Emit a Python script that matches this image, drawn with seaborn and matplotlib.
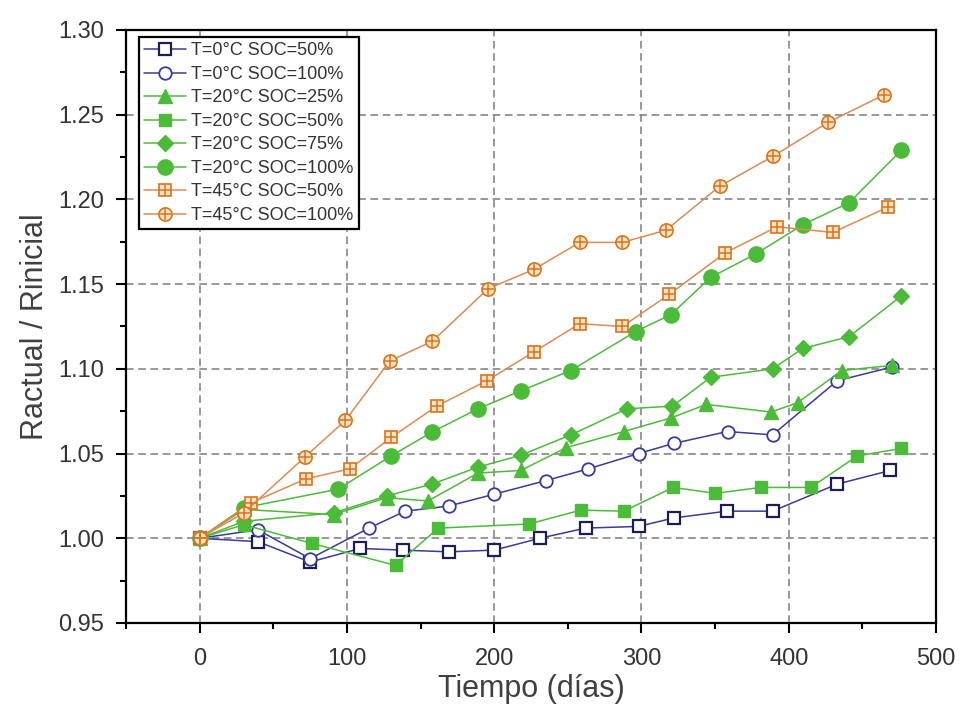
import matplotlib
matplotlib.use("Agg")
import matplotlib.pyplot as plt
import seaborn as sns
import pandas as pd
from matplotlib.ticker import MultipleLocator, FormatStrFormatter

# ---- data ----
labels = ["T=0°C SOC=50%", "T=0°C SOC=100%", "T=20°C SOC=25%", "T=20°C SOC=50%",
          "T=20°C SOC=75%", "T=20°C SOC=100%", "T=45°C SOC=50%", "T=45°C SOC=100%"]

days_0c_50 = [0, 39.5, 75, 109, 138, 169, 200, 231, 262, 298, 322, 358, 389, 433, 469]
r_0c_50 = [1.000, 0.998, 0.986, 0.994, 0.993, 0.992, 0.993, 1.000, 1.006, 1.007, 1.012, 1.016, 1.016, 1.032, 1.040]

days_0c_100 = [0, 39.5, 75, 115, 139.5, 169, 200, 235, 264, 298, 322, 358.5, 389, 433, 470]
r_0c_100 = [1.000, 1.005, 0.988, 1.006, 1.016, 1.019, 1.026, 1.034, 1.041, 1.050, 1.056, 1.063, 1.061, 1.093, 1.101]

days_20c_25 = [0, 30, 91, 127, 155, 189, 218, 249, 288, 320, 344, 388, 406, 436, 470]
r_20c_25 = [1.000, 1.017, 1.014, 1.024, 1.022, 1.0385, 1.040, 1.0535, 1.063, 1.071, 1.079, 1.0745, 1.080, 1.099, 1.102]

days_20c_50 = [0, 30, 76, 133, 162, 223.5, 258.7, 288, 321.5, 350, 381, 415, 446.6, 476.5]
r_20c_50 = [1.000, 1.008, 0.997, 0.984, 1.006, 1.0084, 1.0166, 1.016, 1.030, 1.0265, 1.030, 1.030, 1.0486, 1.053]

days_20c_75 = [0, 30, 91, 127, 158, 189, 218, 252, 290, 321, 347, 389, 409.5, 441, 476.5]
r_20c_75 = [1.000, 1.010, 1.015, 1.025, 1.032, 1.042, 1.049, 1.061, 1.0764, 1.078, 1.095, 1.100, 1.112, 1.119, 1.143]

days_20c_100 = [0, 30, 94, 130, 158, 189, 218, 252, 296, 320, 347, 378, 409.5, 441, 476.5]
r_20c_100 = [1.000, 1.018, 1.029, 1.0486, 1.0628, 1.0764, 1.087, 1.099, 1.122, 1.132, 1.154, 1.168, 1.185, 1.198, 1.229]

days_45c_50 = [0, 35, 72, 102, 130, 161, 195, 227, 258, 287, 319, 356.7, 392, 430, 467.5]
r_45c_50 = [1.000, 1.021, 1.035, 1.041, 1.0595, 1.078, 1.093, 1.110, 1.1266, 1.125, 1.144, 1.1684, 1.1838, 1.1805, 1.1955]

days_45c_100 = [0, 30, 71.5, 99, 129, 158, 196, 227, 258, 287, 316.6, 353, 389.6, 427, 465]
r_45c_100 = [1.000, 1.015, 1.048, 1.0696, 1.1046, 1.1163, 1.1474, 1.1587, 1.1746, 1.1746, 1.1818, 1.2077, 1.2256, 1.2456, 1.2618]

x_ticks = [0, 100, 200, 300, 400, 500]
y_ticks = [0.95, 1.00, 1.05, 1.10, 1.15, 1.20, 1.25, 1.30]

series_days = [days_0c_50, days_0c_100, days_20c_25, days_20c_50,
               days_20c_75, days_20c_100, days_45c_50, days_45c_100]
series_vals = [r_0c_50, r_0c_100, r_20c_25, r_20c_50,
               r_20c_75, r_20c_100, r_45c_50, r_45c_100]

frames = []
for lab, d, v in zip(labels, series_days, series_vals):
    frames.append(pd.DataFrame({"serie": lab, "dias": d, "r": v}))
df = pd.concat(frames, ignore_index=True)

# ---- style ----
sns.set_theme(style="white")
plt.rcParams['font.family'] = ['Liberation Sans', 'DejaVu Sans']

NAVY_L = "#3a3a9e"
NAVY_M = "#1d1d55"
GREEN = "#4dbb3a"
ORANGE_L = "#e08a52"
ORANGE_M = "#d9731c"
ORANGE_F = "#fde3c4"

styles = {
    labels[0]: dict(color=NAVY_L, marker="s", ms=8, mfc="white", mec=NAVY_M, mew=1.6),
    labels[1]: dict(color=NAVY_L, marker="o", ms=9, mfc="white", mec=NAVY_L, mew=1.3),
    labels[2]: dict(color=GREEN, marker="^", ms=10, mfc=GREEN, mec=GREEN, mew=1.0),
    labels[3]: dict(color=GREEN, marker="s", ms=9, mfc=GREEN, mec=GREEN, mew=1.0),
    labels[4]: dict(color=GREEN, marker="D", ms=8.5, mfc=GREEN, mec=GREEN, mew=1.0),
    labels[5]: dict(color=GREEN, marker="o", ms=11, mfc=GREEN, mec=GREEN, mew=1.0),
    labels[6]: dict(color=ORANGE_L, marker="s", ms=8.5, mfc=ORANGE_F, mec=ORANGE_M, mew=1.2),
    labels[7]: dict(color=ORANGE_L, marker="o", ms=9.5, mfc=ORANGE_F, mec=ORANGE_M, mew=1.2),
}

fig = plt.figure(figsize=(9.6, 7.16), dpi=100)
ax = fig.add_axes([0.1313, 0.1299, 0.8437, 0.8283])

handles = []
for lab in labels:
    sub = df[df["serie"] == lab]
    st = styles[lab]
    n_before = len(ax.get_lines())
    sns.lineplot(data=sub, x="dias", y="r", ax=ax, estimator=None, sort=False,
                 color=st["color"], lw=1.1, marker=st["marker"], markersize=st["ms"],
                 markerfacecolor=st["mfc"], markeredgecolor=st["mec"],
                 markeredgewidth=st["mew"], legend=False, zorder=3)
    line = ax.get_lines()[n_before]
    if lab.startswith("T=45"):
        plus, = ax.plot(sub["dias"], sub["r"], linestyle="none", marker="+",
                        ms=st["ms"] * 0.95, mew=1.1, color=ORANGE_M, zorder=4)
        handles.append((line, plus))
    else:
        handles.append(line)

ax.set_xlim(-50, 500)
ax.set_ylim(0.95, 1.30)
ax.set_xticks(x_ticks)
ax.set_yticks(y_ticks)
ax.xaxis.set_minor_locator(MultipleLocator(50))
ax.yaxis.set_minor_locator(MultipleLocator(0.025))
ax.yaxis.set_major_formatter(FormatStrFormatter("%.2f"))

ax.grid(True, which="major", linestyle=(0, (5, 3)), color="#7c7c7c", lw=1.1)
ax.set_axisbelow(True)

for sp in ax.spines.values():
    sp.set_visible(True)
    sp.set_color("black")
    sp.set_linewidth(1.6)

ax.tick_params(axis="both", which="major", direction="out", length=7, width=1.5,
               color="black", labelsize=17, labelcolor="#333333",
               top=False, right=False, bottom=True, left=True)
ax.tick_params(axis="x", which="major", pad=11)
ax.tick_params(axis="y", which="major", pad=9)
ax.tick_params(axis="both", which="minor", direction="out", length=4, width=1.5,
               color="black", top=False, right=False, bottom=True, left=True)

ax.set_xlabel("Tiempo (días)", fontsize=22, color="#404040", labelpad=3)
ax.set_ylabel("Ractual / Rinicial", fontsize=22, color="#404040", labelpad=6)

leg = ax.legend(handles, labels, loc="upper left", bbox_to_anchor=(0.016, 0.988),
                fontsize=13, frameon=True, fancybox=False, framealpha=1,
                edgecolor="black", handlelength=2.3, handletextpad=0.3,
                labelspacing=0.36, borderpad=0.3, borderaxespad=0.0, numpoints=1)
leg.get_frame().set_linewidth(1.6)
for t in leg.get_texts():
    t.set_color("#333333")

fig.savefig("out.png", dpi=100)
